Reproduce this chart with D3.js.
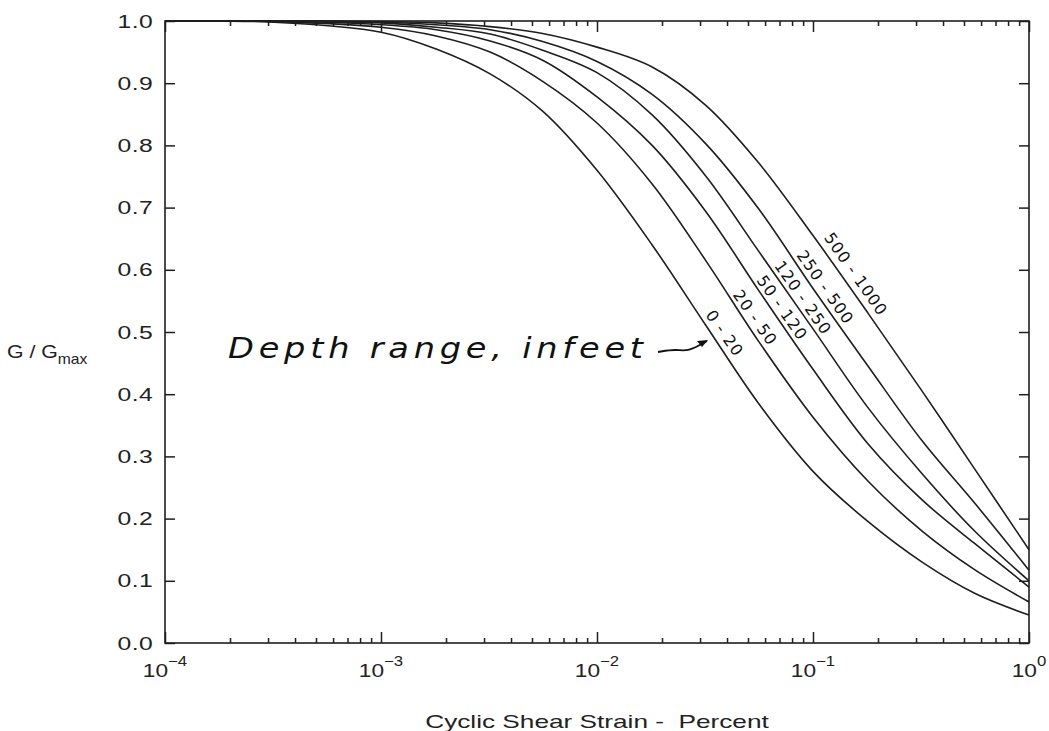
<!DOCTYPE html>
<html>
<head>
<meta charset="utf-8">
<script src="https://cdn.jsdelivr.net/npm/d3@7"></script>
<style>
  html, body { margin: 0; background: #fff; }
  svg { display: block; font-family: "Liberation Sans", Arial, sans-serif; }
</style>
</head>
<body>
<div id="chart"></div>
<script>
// G/Gmax vs cyclic shear strain, one curve per depth range (feet).

const strain = [0.0001, 0.00032, 0.001, 0.0018, 0.0032, 0.0056, 0.01, 0.018, 0.032, 0.056, 0.1, 0.18, 0.32, 0.56, 1.0];
const depthRanges = ["0 - 20", "20 - 50", "50 - 120", "120 - 250", "250 - 500", "500 - 1000"];
const g0to20     = [1.0, 0.998, 0.982, 0.955, 0.915, 0.855, 0.760, 0.640, 0.510, 0.385, 0.276, 0.195, 0.130, 0.080, 0.045];
const g20to50    = [1.0, 0.999, 0.990, 0.976, 0.950, 0.903, 0.836, 0.738, 0.614, 0.485, 0.363, 0.260, 0.180, 0.118, 0.066];
const g50to120   = [1.0, 1.0, 0.994, 0.986, 0.968, 0.937, 0.878, 0.800, 0.693, 0.567, 0.440, 0.320, 0.230, 0.160, 0.090];
const g120to250  = [1.0, 1.0, 0.997, 0.990, 0.979, 0.953, 0.917, 0.849, 0.750, 0.630, 0.505, 0.378, 0.272, 0.180, 0.100];
const g250to500  = [1.0, 1.0, 0.998, 0.994, 0.986, 0.967, 0.935, 0.882, 0.802, 0.698, 0.570, 0.445, 0.325, 0.225, 0.117];
const g500to1000 = [1.0, 1.0, 0.999, 0.997, 0.991, 0.980, 0.958, 0.926, 0.864, 0.772, 0.655, 0.530, 0.405, 0.280, 0.150];
const curves = [g0to20, g20to50, g50to120, g120to250, g250to500, g500to1000];

const yTicks = [0, 0.1, 0.2, 0.3, 0.4, 0.5, 0.6, 0.7, 0.8, 0.9, 1.0];
const xDecades = [1e-4, 1e-3, 1e-2, 1e-1, 1];
const xExponents = ["\u22124", "\u22123", "\u22122", "\u22121", "0"];

// label anchors (strain, G) for the hand-written depth labels
const labelAt = [[0.039, 0.498], [0.054, 0.523], [0.072, 0.539], [0.090, 0.555], [0.114, 0.572], [0.158, 0.593]];

const W = 1049, H = 731;
const margin = { top: 21, right: 20, bottom: 88, left: 165 };
const stretch = 1.3; // the scanned lettering is wide
const svg = d3.select("#chart").append("svg").attr("width", W).attr("height", H);

const x = d3.scaleLog().domain([1e-4, 1]).range([margin.left, W - margin.right]);
const y = d3.scaleLinear().domain([0, 1]).range([H - margin.bottom, margin.top]);
const ink = "#1e1e1e";

// frame
svg.append("rect")
  .attr("x", x(1e-4)).attr("y", y(1))
  .attr("width", x(1) - x(1e-4)).attr("height", y(0) - y(1))
  .attr("fill", "none").attr("stroke", ink).attr("stroke-width", 1.6);

const isDecade = v => Math.abs(Math.log10(v) - Math.round(Math.log10(v))) < 1e-9;
const xTickVals = x.ticks();

// bottom / top ticks pointing inward
const gB = svg.append("g").attr("transform", `translate(0,${y(0)})`)
  .call(d3.axisBottom(x).tickValues(xTickVals).tickSize(-5).tickFormat(""));
const gT = svg.append("g").attr("transform", `translate(0,${y(1)})`)
  .call(d3.axisTop(x).tickValues(xTickVals).tickSize(-5).tickFormat(""));
[gB, gT].forEach((g, i) => {
  g.select(".domain").remove();
  g.selectAll(".tick line")
    .attr("stroke", ink).attr("stroke-width", 1.5)
    .attr("y2", d => (isDecade(d) ? 11 : 5) * (i === 0 ? -1 : 1));
});

// left / right ticks
const gL = svg.append("g").attr("transform", `translate(${x(1e-4)},0)`)
  .call(d3.axisLeft(y).tickValues(yTicks).tickSize(-10).tickFormat(d3.format(".1f")));
const gR = svg.append("g").attr("transform", `translate(${x(1)},0)`)
  .call(d3.axisRight(y).tickValues(yTicks).tickSize(-10).tickFormat(""));
[gL, gR].forEach(g => {
  g.select(".domain").remove();
  g.selectAll(".tick line").attr("stroke", ink).attr("stroke-width", 1.5);
});
gL.selectAll(".tick text")
  .attr("x", -12 / stretch)
  .attr("transform", `scale(${stretch},1)`)
  .attr("font-size", 19).attr("fill", "#222").attr("letter-spacing", 0.3)
  .attr("font-family", "'Liberation Sans', Arial, sans-serif");

// decade labels 10^n
const lbl = svg.append("g").attr("font-size", 19).attr("fill", "#222").attr("text-anchor", "middle");
xDecades.forEach((v, i) => {
  const t = lbl.append("text")
    .attr("transform", `translate(${x(v)},677) scale(${stretch * 0.92},1)`);
  t.append("tspan").text("10");
  t.append("tspan").attr("dy", -11).attr("font-size", 14).text(xExponents[i]);
});

// axis titles
svg.append("text")
  .attr("transform", `translate(${(x(1e-4) + x(1)) / 2},728) scale(1.38,1)`)
  .attr("text-anchor", "middle")
  .attr("font-size", 19).attr("fill", "#222")
  .attr("xml:space", "preserve")
  .text("Cyclic Shear Strain -  Percent");

const yl = svg.append("text")
  .attr("transform", "translate(7,358) scale(1.12,1)")
  .attr("font-size", 19).attr("fill", "#222");
yl.append("tspan").text("G / G");
yl.append("tspan").attr("dy", 6).attr("font-size", 14).text("max");

// curves
const line = d3.line()
  .x((d, i) => x(strain[i]))
  .y(d => y(d))
  .curve(d3.curveCatmullRom.alpha(0.5));

svg.append("g").selectAll("path").data(curves).join("path")
  .attr("d", line)
  .attr("fill", "none").attr("stroke", ink).attr("stroke-width", 1.6);

// hand-written depth labels along the curves
svg.append("g").selectAll("text").data(depthRanges).join("text")
  .attr("transform", (d, i) => `translate(${x(labelAt[i][0])},${y(labelAt[i][1])}) rotate(55)`)
  .attr("text-anchor", "middle").attr("dy", "0.35em")
  .attr("font-family", "'DejaVu Sans', sans-serif").attr("font-size", 16)
  .attr("letter-spacing", 1).attr("fill", "#111")
  .text(d => d);

// annotation
const noteStretch = 1.2;
svg.append("text")
  .attr("transform", `translate(228,358) scale(${noteStretch},1)`)
  .attr("font-family", "'DejaVu Sans', sans-serif").attr("font-style", "italic")
  .attr("font-size", 28).attr("fill", "#111")
  .attr("textLength", 415 / noteStretch).attr("lengthAdjust", "spacing")
  .text("Depth range, infeet");

const arrow = d3.line().curve(d3.curveBasis);
svg.append("path")
  .attr("d", arrow([[658, 352], [676, 349], [688, 352], [707, 341]]))
  .attr("fill", "none").attr("stroke", "#111").attr("stroke-width", 1.8);
svg.append("path")
  .attr("d", "M708,340 L697,341 L702,347 Z")
  .attr("fill", "#111");
</script>
</body>
</html>
